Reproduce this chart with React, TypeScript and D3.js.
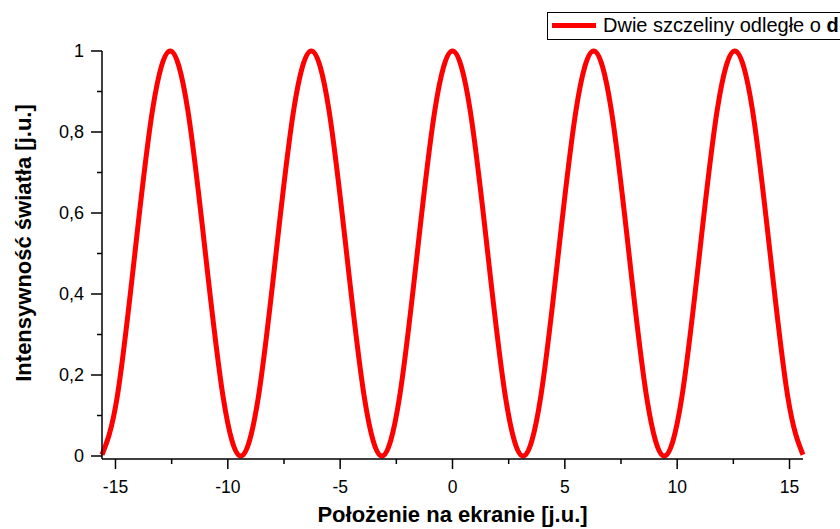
import React from "react";
import * as d3 from "d3";

const positionX = [
  -15.6, -14.923, -14.137, -13.352, -12.566, -11.781, -10.996, -10.21, -9.425, -8.639,
  -7.854, -7.069, -6.283, -5.498, -4.712, -3.927, -3.142, -2.356, -1.571, -0.785,
  0, 0.785, 1.571, 2.356, 3.142, 3.927, 4.712, 5.498, 6.283, 7.069,
  7.854, 8.639, 9.425, 10.21, 10.996, 11.781, 12.566, 13.352, 14.137, 14.923, 15.6,
];
const intensity = [
  0.003, 0.146, 0.5, 0.854, 1, 0.854, 0.5, 0.146, 0, 0.146,
  0.5, 0.854, 1, 0.854, 0.5, 0.146, 0, 0.146, 0.5, 0.854,
  1, 0.854, 0.5, 0.146, 0, 0.146, 0.5, 0.854, 1, 0.854,
  0.5, 0.146, 0, 0.146, 0.5, 0.854, 1, 0.854, 0.5, 0.146, 0.003,
];
const xTicks = [-15, -10, -5, 0, 5, 10, 15];
const xMinorTicks = [-12.5, -7.5, -2.5, 2.5, 7.5, 12.5];
const yTicks = [0, 0.2, 0.4, 0.6, 0.8, 1];
const yMinorTicks = [0.1, 0.3, 0.5, 0.7, 0.9];
const xTitle = "Położenie na ekranie [j.u.]";
const yTitle = "Intensywność światła [j.u.]";
const legendText = "Dwie szczeliny odległe o ";
const legendBold = "d";

const W = 840;
const H = 529;
const left = 102;
const right = 803;
const top = 51;
const bottom = 459;
const font = "'Liberation Sans', Arial, sans-serif";

export default function App() {
  const x = d3.scaleLinear().domain([-15.6, 15.6]).range([left, right]);
  const y = d3.scaleLinear().domain([-0.0074, 1]).range([bottom, top]);
  const pts = positionX.map((v, i) => [v, intensity[i]] as [number, number]);
  const line = d3
    .line<[number, number]>()
    .x((d) => x(d[0]))
    .y((d) => y(d[1]))
    .curve(d3.curveNatural);
  const fmt = (v: number) => String(v).replace(".", ",");
  return (
    <svg
      width={W}
      height={H}
      style={{ position: "absolute", left: 0, top: 0, background: "#fff" }}
      fontFamily={font}
    >
      <path d={line(pts) || ""} fill="none" stroke="#ff0000" strokeWidth={5} strokeLinejoin="round" />
      {/* axes */}
      <line x1={left} x2={left} y1={top} y2={bottom} stroke="#000" strokeWidth={1.5} />
      <line x1={left} x2={right} y1={bottom} y2={bottom} stroke="#000" strokeWidth={1.5} />
      {yTicks.map((t) => (
        <g key={"y" + t}>
          <line x1={left - 11} x2={left} y1={y(t)} y2={y(t)} stroke="#000" strokeWidth={1.5} />
          <text x={84} y={y(t)} dy="0.36em" textAnchor="end" fontSize={18} fill="#000">
            {fmt(t)}
          </text>
        </g>
      ))}
      {yMinorTicks.map((t) => (
        <line key={"ym" + t} x1={left - 5} x2={left} y1={y(t)} y2={y(t)} stroke="#000" strokeWidth={1.5} />
      ))}
      {xTicks.map((t) => (
        <g key={"x" + t}>
          <line x1={x(t)} x2={x(t)} y1={bottom} y2={bottom + 10} stroke="#000" strokeWidth={1.5} />
          <text x={x(t)} y={493} textAnchor="middle" fontSize={17.5} fill="#000">
            {t}
          </text>
        </g>
      ))}
      {xMinorTicks.map((t) => (
        <line key={"xm" + t} x1={x(t)} x2={x(t)} y1={bottom} y2={bottom + 5} stroke="#000" strokeWidth={1.5} />
      ))}
      <text x={(left + right) / 2} y={522} textAnchor="middle" fontSize={22} fontWeight="bold" fill="#000">
        {xTitle}
      </text>
      <text
        transform={`translate(31, 243) rotate(-90)`}
        textAnchor="middle"
        fontSize={22}
        fontWeight="bold"
        fill="#000"
      >
        {yTitle}
      </text>
      {/* legend */}
      <rect x={547.5} y={12.5} width={300} height={27} fill="#fff" stroke="#000" strokeWidth={1} />
      <line x1={552} x2={596} y1={25.5} y2={25.5} stroke="#ff0000" strokeWidth={5} />
      <text x={603} y={32} fontSize={20} fill="#000">
        {legendText}
        <tspan fontWeight="bold">{legendBold}</tspan>
      </text>
    </svg>
  );
}
